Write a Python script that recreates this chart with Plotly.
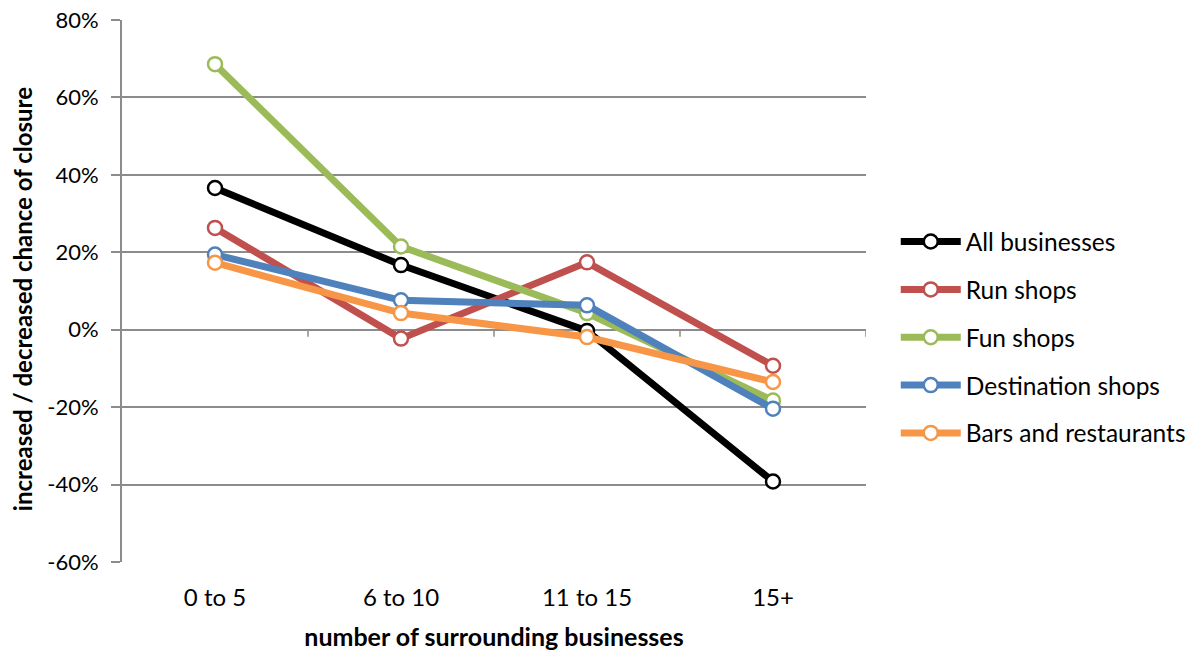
import plotly.graph_objects as go

categories = ["0 to 5", "6 to 10", "11 to 15", "15+"]
series_names = ["All businesses", "Run shops", "Fun shops", "Destination shops", "Bars and restaurants"]
all_businesses = [0.366, 0.167, -0.003, -0.392]
run_shops = [0.263, -0.023, 0.174, -0.093]
fun_shops = [0.686, 0.215, 0.043, -0.183]
destination_shops = [0.194, 0.076, 0.063, -0.204]
bars_restaurants = [0.173, 0.043, -0.019, -0.135]
colors = ["#000000", "#C0504D", "#9BBB59", "#4F81BD", "#F79646"]
y_ticks = [-0.6, -0.4, -0.2, 0, 0.2, 0.4, 0.6, 0.8]
y_ticktext = ["-60%", "-40%", "-20%", "0%", "20%", "40%", "60%", "80%"]

values = [all_businesses, run_shops, fun_shops, destination_shops, bars_restaurants]
xpos = list(range(len(categories)))

FONT = "Lato, 'Open Sans', sans-serif"
GRID = "#8C8C8C"

fig = go.Figure()
for name, vals, col in zip(series_names, values, colors):
    fig.add_trace(go.Scatter(
        x=xpos, y=vals, name=name, mode="lines+markers", legendgroup=name,
        line=dict(color=col, width=7),
        marker=dict(symbol="circle", size=14, color="white", line=dict(color=col, width=2.5)),
    ))

# small tick marks on the 0% line between categories
for b in [0.5, 1.5, 2.5, 3.5]:
    fig.add_shape(type="line", xref="x", yref="y", x0=b, x1=b,
                  ysizemode="pixel", yanchor=0, y0=0, y1=-7,
                  line=dict(color=GRID, width=1.5))

# y-axis title as a rotated annotation
fig.add_annotation(text="<b>increased / decreased chance of closure</b>",
                   xref="paper", yref="paper", x=-0.1344, y=0.485,
                   xanchor="center", yanchor="middle", textangle=-90,
                   showarrow=False, font=dict(family=FONT, size=24, color="#000000"))

fig.update_layout(
    width=1198, height=654,
    margin=dict(l=122, r=332, t=20, b=92, autoexpand=False),
    paper_bgcolor="white", plot_bgcolor="white",
    font=dict(family=FONT, size=22, color="#000000"),
    showlegend=True,
    legend=dict(x=1.04, xanchor="left", y=0.414, yanchor="middle",
                font=dict(family=FONT, size=24.5), tracegroupgap=13,
                itemwidth=60, bgcolor="rgba(0,0,0,0)"),
    xaxis=dict(range=[-0.5, 3.5], tickvals=xpos, ticktext=categories,
               showgrid=False, zeroline=False, showline=False, automargin=False,
               ticks="outside", ticklen=14, tickcolor="rgba(0,0,0,0)",
               tickfont=dict(family=FONT, size=24), ticklabeloverflow="allow",
               title=dict(text="<b>number of surrounding businesses</b>",
                          font=dict(family=FONT, size=25), standoff=18)),
    yaxis=dict(range=[-0.6, 0.8], tickvals=y_ticks, ticktext=y_ticktext,
               showgrid=True, gridcolor=GRID, gridwidth=1.5, automargin=False,
               zeroline=False, showline=True, linecolor=GRID, linewidth=2,
               ticks="outside", ticklen=9, tickcolor=GRID, tickwidth=1.5,
               ticklabelstandoff=8, ticklabeloverflow="allow",
               tickfont=dict(family=FONT, size=22)),
)

fig.write_html("out.html",
               config={"displayModeBar": False},
               post_script="document.body.style.margin='0';document.body.style.overflow='hidden';")
